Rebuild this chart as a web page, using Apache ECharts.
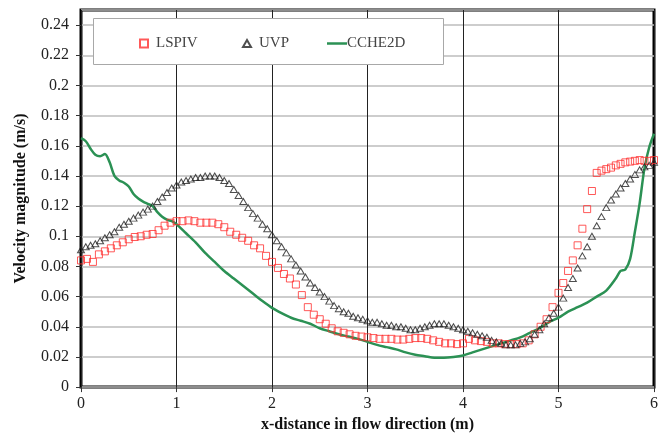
<!DOCTYPE html>
<html>
<head>
<meta charset="utf-8">
<script src="https://cdn.jsdelivr.net/npm/echarts@6/dist/echarts.min.js"></script>
<style>
  html, body { margin: 0; padding: 0; background: #fff; }
  #main { width: 661px; height: 438px; }
</style>
</head>
<body>
<div id="main"></div>
<script>
// LSPIV (red squares)
var lspivX = [0, 0.0625, 0.125, 0.1875, 0.25, 0.3125, 0.375, 0.4375, 0.5, 0.5625, 0.625, 0.6875, 0.75, 0.8125, 0.875, 0.9375,
  1, 1.0625, 1.125, 1.1875, 1.25, 1.3125, 1.375, 1.4375, 1.5, 1.5625, 1.625, 1.6875, 1.75, 1.8125, 1.875, 1.9375,
  2, 2.0625, 2.125, 2.1875, 2.25, 2.3125, 2.375, 2.4375, 2.5, 2.5625, 2.625, 2.6875, 2.75, 2.8125, 2.875, 2.9375,
  3, 3.0625, 3.125, 3.1875, 3.25, 3.3125, 3.375, 3.4375, 3.5, 3.5625, 3.625, 3.6875, 3.75, 3.8125, 3.875, 3.9375,
  4, 4.0625, 4.125, 4.1875, 4.25, 4.3125, 4.375, 4.4375, 4.5, 4.5625, 4.625, 4.6875, 4.75, 4.8125, 4.875, 4.9375,
  5, 5.05, 5.1, 5.15, 5.2, 5.25, 5.3, 5.35, 5.4, 5.45, 5.5, 5.55, 5.6, 5.65, 5.7, 5.75, 5.8, 5.85, 5.9, 5.95, 6];
var lspivV = [0.084, 0.085, 0.083, 0.088, 0.090, 0.092, 0.094, 0.096, 0.098, 0.0995, 0.100, 0.101, 0.1015, 0.104, 0.107, 0.109,
  0.110, 0.110, 0.1105, 0.110, 0.109, 0.109, 0.109, 0.108, 0.106, 0.103, 0.101, 0.099, 0.097, 0.094, 0.092, 0.087,
  0.083, 0.079, 0.075, 0.072, 0.068, 0.061, 0.053, 0.048, 0.045, 0.042, 0.039, 0.037, 0.036, 0.035, 0.034, 0.0335,
  0.033, 0.0325, 0.032, 0.032, 0.032, 0.0315, 0.0315, 0.032, 0.0325, 0.0325, 0.032, 0.031, 0.030, 0.029, 0.029, 0.0285,
  0.029, 0.032, 0.031, 0.0305, 0.030, 0.029, 0.029, 0.0285, 0.0285, 0.0285, 0.029, 0.031, 0.035, 0.040, 0.045, 0.053,
  0.0625, 0.069, 0.077, 0.084, 0.094, 0.105, 0.118, 0.130, 0.142, 0.1435, 0.1445, 0.1455, 0.147, 0.148, 0.149, 0.1495, 0.150, 0.1505, 0.150, 0.150, 0.1505];

// UVP (triangles), every 0.05 m
var uvpX = [];
for (var i = 0; i <= 120; i++) uvpX.push(+(i * 0.05).toFixed(2));
var uvpV = [0.091, 0.093, 0.094, 0.095, 0.097, 0.099, 0.101, 0.103, 0.106, 0.108,
  0.110, 0.112, 0.114, 0.116, 0.118, 0.120, 0.123, 0.126, 0.129, 0.132,
  0.134, 0.136, 0.137, 0.138, 0.139, 0.139, 0.140, 0.140, 0.140, 0.139,
  0.137, 0.135, 0.131, 0.127, 0.123, 0.119, 0.115, 0.112, 0.108, 0.105,
  0.101, 0.097, 0.093, 0.089, 0.085, 0.081, 0.077, 0.073, 0.069, 0.066,
  0.063, 0.060, 0.057, 0.054, 0.052, 0.050, 0.049, 0.047, 0.046, 0.045,
  0.044, 0.043, 0.043, 0.042, 0.041, 0.041, 0.040, 0.040, 0.039, 0.038,
  0.038, 0.039, 0.040, 0.041, 0.042, 0.042, 0.042, 0.041, 0.040, 0.039,
  0.038, 0.037, 0.036, 0.035, 0.034, 0.033, 0.031, 0.030, 0.029, 0.028,
  0.028, 0.028, 0.029, 0.030, 0.032, 0.035, 0.038, 0.042, 0.046, 0.049,
  0.053, 0.059, 0.066, 0.072, 0.079, 0.087, 0.093, 0.100, 0.107, 0.113,
  0.119, 0.124, 0.128, 0.132, 0.135, 0.138, 0.141, 0.144, 0.146, 0.147, 0.149];

// CCHE2D (green line)
var ccheX = [0, 0.05, 0.1, 0.15, 0.2, 0.25, 0.3, 0.35, 0.4, 0.45, 0.5, 0.55, 0.6, 0.65, 0.7, 0.75, 0.8, 0.85, 0.9, 0.95,
  1.0, 1.1, 1.2, 1.3, 1.4, 1.5, 1.6, 1.7, 1.8, 1.9, 2.0, 2.1, 2.2, 2.3, 2.4, 2.5, 2.6, 2.7, 2.8, 2.9,
  3.0, 3.1, 3.2, 3.3, 3.4, 3.5, 3.6, 3.7, 3.8, 3.9, 4.0, 4.1, 4.2, 4.3, 4.4, 4.5, 4.6, 4.7, 4.8, 4.9,
  5.0, 5.1, 5.2, 5.3, 5.4, 5.5, 5.6, 5.65, 5.7, 5.75, 5.8, 5.85, 5.9, 5.95, 6.0];
var ccheV = [0.165, 0.163, 0.158, 0.154, 0.153, 0.1545, 0.149, 0.140, 0.137, 0.1355, 0.133, 0.128, 0.125, 0.123, 0.1215, 0.120, 0.116, 0.113, 0.111, 0.110,
  0.108, 0.102, 0.096, 0.089, 0.083, 0.077, 0.072, 0.067, 0.062, 0.057, 0.0525, 0.049, 0.046, 0.044, 0.042, 0.039, 0.037, 0.035, 0.0335, 0.032,
  0.030, 0.028, 0.0265, 0.025, 0.023, 0.0215, 0.0205, 0.0195, 0.0195, 0.020, 0.021, 0.023, 0.025, 0.027, 0.029, 0.031, 0.033, 0.036, 0.039, 0.043,
  0.046, 0.050, 0.053, 0.056, 0.060, 0.064, 0.072, 0.077, 0.078, 0.085, 0.103, 0.122, 0.145, 0.159, 0.168];

var xTicks = [0, 1, 2, 3, 4, 5, 6];

function pairs(xs, ys) {
  var out = [];
  for (var i = 0; i < xs.length; i++) out.push([xs[i], ys[i]]);
  return out;
}

var serif = 'Liberation Serif, Times New Roman, serif';
var chart = echarts.init(document.getElementById('main'), null, { renderer: 'canvas' });

var option = {
  animation: false,
  grid: {
    left: 81, right: 3, top: 10, bottom: 50,
    show: true, borderColor: '#000', borderWidth: 3, backgroundColor: '#fff'
  },
  graphic: [{
    type: 'rect', left: 93, top: 18, z: 3,
    shape: { width: 350, height: 46 },
    style: { fill: '#fff', stroke: '#a8a8a8', lineWidth: 1 }
  }],
  legend: [
    { data: ['LSPIV'], left: 139, top: 36, padding: 0, itemWidth: 8, itemHeight: 8, itemGap: 0,
      textStyle: { fontFamily: serif, fontSize: 15, color: '#444', padding: [0, 0, 0, 3] }, z: 5 },
    { data: ['UVP'], left: 242, top: 36, padding: 0, itemWidth: 8, itemHeight: 7, itemGap: 0,
      textStyle: { fontFamily: serif, fontSize: 15, color: '#444', padding: [0, 0, 0, 3] }, z: 5 },
    { data: [{ name: 'CCHE2D', icon: 'rect' }], left: 327, top: 36, padding: 0, itemWidth: 20, itemHeight: 2.5, itemGap: 0,
      textStyle: { fontFamily: serif, fontSize: 15, color: '#444', padding: [0, 0, 0, -5] }, z: 5 }
  ],
  xAxis: {
    type: 'value', min: 0, max: 6, interval: 1,
    name: 'x-distance in flow direction (m)', nameLocation: 'middle', nameGap: 25,
    nameTextStyle: { fontFamily: serif, fontSize: 16, fontWeight: 'bold', color: '#111' },
    axisLine: { show: false },
    axisTick: { show: true, length: 5, lineStyle: { color: '#333' } },
    axisLabel: { margin: 9, fontFamily: serif, fontSize: 16, color: '#222',
      formatter: function (v) { return xTicks.indexOf(v) >= 0 ? String(v) : ''; } },
    splitLine: { show: true, lineStyle: { color: '#222', width: 1 } }
  },
  yAxis: {
    type: 'value', min: 0, max: 0.25, interval: 0.02,
    name: 'Velocity magnitude (m/s)', nameLocation: 'middle', nameGap: 52,
    nameTextStyle: { fontFamily: serif, fontSize: 16, fontWeight: 'bold', color: '#111' },
    axisLine: { show: false },
    axisTick: { show: true, length: 5, lineStyle: { color: '#333' } },
    axisLabel: { margin: 12, fontFamily: serif, fontSize: 16, color: '#222', showMaxLabel: false,
      formatter: function (v) { return v > 0.245 ? '' : String(+v.toFixed(2)); } },
    splitLine: { show: true, lineStyle: { color: '#bdbdbd', width: 1.5 } }
  },
  series: [
    {
      name: 'LSPIV', type: 'scatter', clip: false,
      symbol: 'rect', symbolSize: 7,
      itemStyle: { color: 'rgba(255,255,255,0)', borderColor: '#ff3030', borderWidth: 1 },
      data: pairs(lspivX, lspivV), z: 3
    },
    {
      name: 'UVP', type: 'scatter', clip: false,
      symbol: 'triangle', symbolSize: [7, 6],
      itemStyle: { color: 'rgba(255,255,255,0)', borderColor: '#222', borderWidth: 1 },
      data: pairs(uvpX, uvpV), z: 3
    },
    {
      name: 'CCHE2D', type: 'line', showSymbol: false, symbol: 'none', smooth: 0.3,
      lineStyle: { color: '#2b9154', width: 2.5 },
      itemStyle: { color: '#2b9154' },
      data: pairs(ccheX, ccheV), z: 2
    }
  ]
};
chart.setOption(option);
window.onresize = chart.resize;
</script>
</body>
</html>
